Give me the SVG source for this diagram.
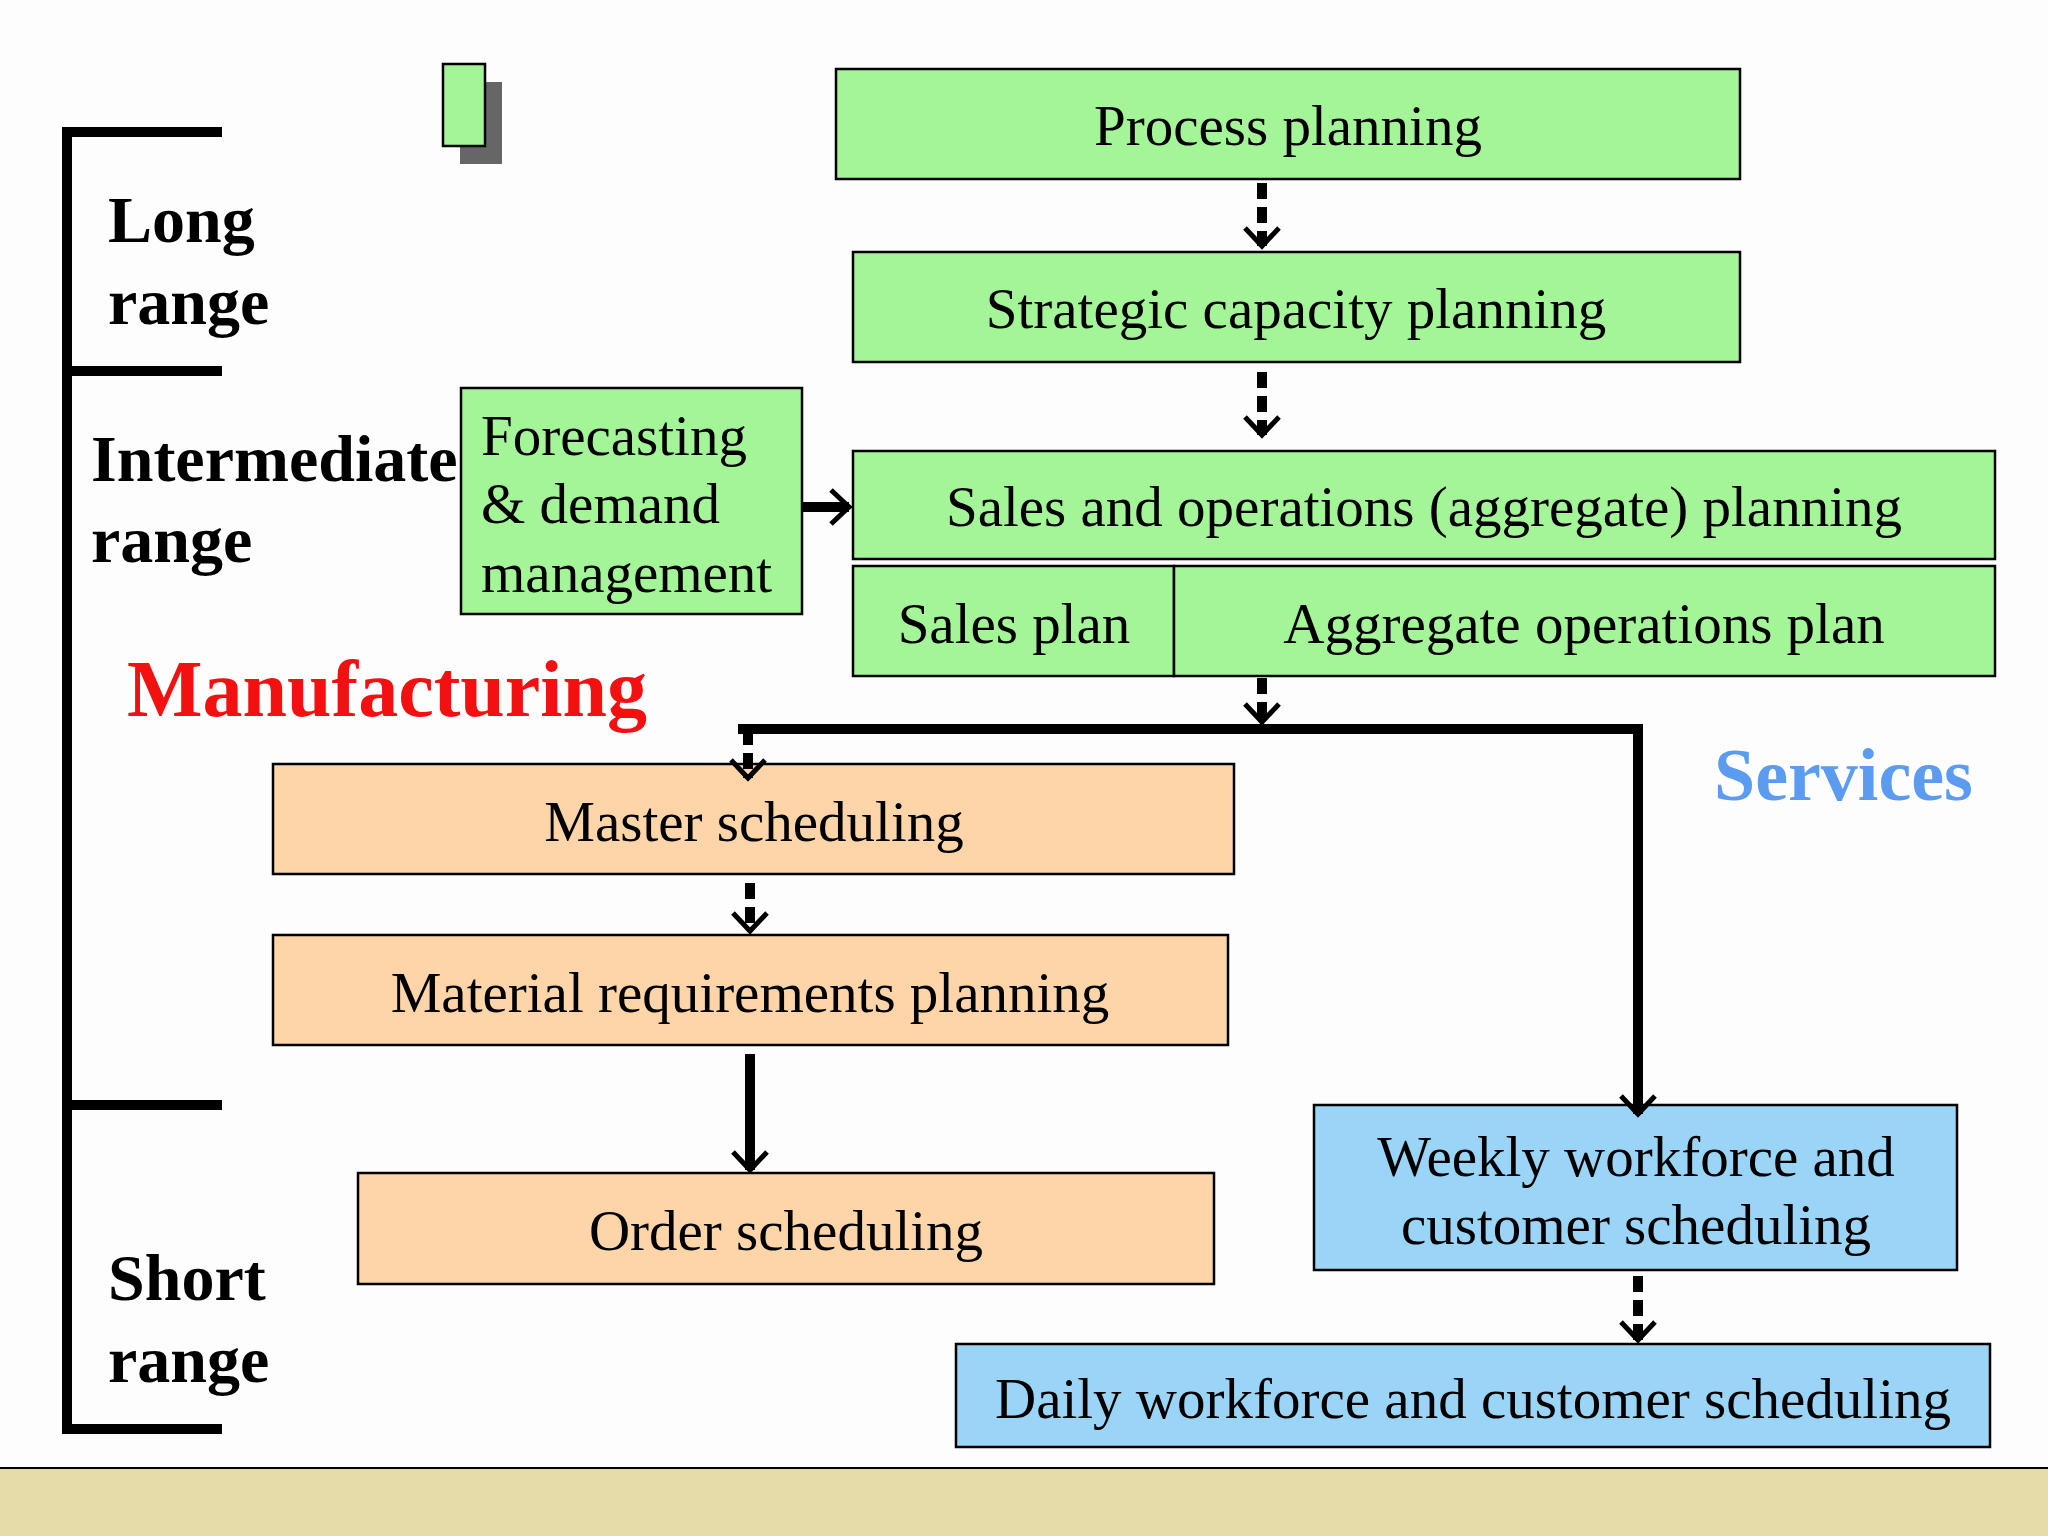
<svg xmlns="http://www.w3.org/2000/svg" width="2048" height="1536" viewBox="0 0 2048 1536">
<style>
.g{fill:#a4f598;stroke:#000;stroke-width:2.5}
.o{fill:#fdd5a8;stroke:#000;stroke-width:2.5}
.b{fill:#9ad4f6;stroke:#000;stroke-width:2.5}
.t{font-family:"Liberation Serif",serif;font-size:57px;fill:#000;text-anchor:middle}
.l{font-family:"Liberation Serif",serif;font-size:66px;font-weight:bold;fill:#000}
.c{stroke:#000;stroke-width:10;fill:none}
.d{stroke-dasharray:16 8}
</style>
<defs>
<marker id="v" markerWidth="40" markerHeight="40" refX="0" refY="0" orient="auto" markerUnits="userSpaceOnUse" viewBox="-20 -20 40 40" overflow="visible">
<path d="M-18,-17 L0,0 L-18,17" fill="none" stroke="#000" stroke-width="5"/>
</marker>
</defs>
<rect width="2048" height="1536" fill="#fdfdfd"/>
<rect x="0" y="1468" width="2048" height="68" fill="#e6dcaa"/>
<line x1="0" y1="1468" x2="2048" y2="1468" stroke="#000" stroke-width="2"/>
<rect x="460" y="82" width="42" height="82" fill="#666"/>
<rect x="443" y="64" width="42" height="82" class="g"/>
<g id="bracket" stroke="#000" stroke-width="10" fill="none">
<path d="M222,132 H67 V1429 H222"/>
<line x1="67" y1="371" x2="222" y2="371"/>
<line x1="67" y1="1105" x2="222" y2="1105"/>
</g>
<text class="l" x="108" y="242">Long</text>
<text class="l" x="108" y="324">range</text>
<text class="l" x="91" y="481">Intermediate</text>
<text class="l" x="91" y="562">range</text>
<text class="l" x="108" y="1300">Short</text>
<text class="l" x="108" y="1382">range</text>
<text x="127" y="716" font-family="Liberation Serif,serif" font-size="80" font-weight="bold" fill="#f21010">Manufacturing</text>
<text x="1714" y="800" font-family="Liberation Serif,serif" font-size="74" font-weight="bold" fill="#5b9bf0">Services</text>
<g id="forecast"><rect x="461" y="388" width="341" height="226" class="g"/>
<text class="t" x="481" y="455" style="text-anchor:start">Forecasting</text>
<text class="t" x="481" y="523" style="text-anchor:start">&amp; demand</text>
<text class="t" x="481" y="592" style="text-anchor:start">management</text></g>
<g id="process"><rect x="836" y="69" width="904" height="110" class="g"/><text class="t" x="1288" y="145">Process planning</text></g>
<g id="strategic"><rect x="853" y="252" width="887" height="110" class="g"/><text class="t" x="1296" y="328">Strategic capacity planning</text></g>
<g id="sop"><rect x="853" y="451" width="1142" height="108" class="g"/><text class="t" x="1424" y="526">Sales and operations (aggregate) planning</text></g>
<g id="salesplan"><rect x="853" y="566" width="321" height="110" class="g"/><text class="t" x="1014" y="643">Sales plan</text></g>
<g id="aggplan"><rect x="1174" y="566" width="821" height="110" class="g"/><text class="t" x="1584" y="643">Aggregate operations plan</text></g>
<g id="master"><rect x="273" y="764" width="961" height="110" class="o"/><text class="t" x="754" y="841">Master scheduling</text></g>
<g id="mrp"><rect x="273" y="935" width="955" height="110" class="o"/><text class="t" x="750" y="1012">Material requirements planning</text></g>
<g id="order"><rect x="358" y="1173" width="856" height="111" class="o"/><text class="t" x="786" y="1250">Order scheduling</text></g>
<g id="weekly"><rect x="1314" y="1105" width="643" height="165" class="b"/><text class="t" x="1636" y="1176">Weekly workforce and</text><text class="t" x="1636" y="1244">customer scheduling</text></g>
<g id="daily"><rect x="956" y="1344" width="1034" height="103" class="b"/><text class="t" x="1473" y="1418">Daily workforce and customer scheduling</text></g>
<g id="connectors">
<line class="c d" x1="1262" y1="183" x2="1262" y2="246" marker-end="url(#v)"/>
<line class="c d" x1="1262" y1="372" x2="1262" y2="435" marker-end="url(#v)"/>
<line class="c" x1="802" y1="507" x2="849" y2="507" marker-end="url(#v)"/>
<line class="c d" x1="1262" y1="678" x2="1262" y2="722" marker-end="url(#v)"/>
<path class="c" d="M738,729 H1638 V1114" marker-end="url(#v)"/>
<line class="c d" x1="748" y1="729" x2="748" y2="778" marker-end="url(#v)"/>
<line class="c d" x1="750" y1="883" x2="750" y2="931" marker-end="url(#v)"/>
<line class="c" x1="750" y1="1054" x2="750" y2="1170" marker-end="url(#v)"/>
<line class="c d" x1="1638" y1="1276" x2="1638" y2="1340" marker-end="url(#v)"/>
</g>
</svg>
